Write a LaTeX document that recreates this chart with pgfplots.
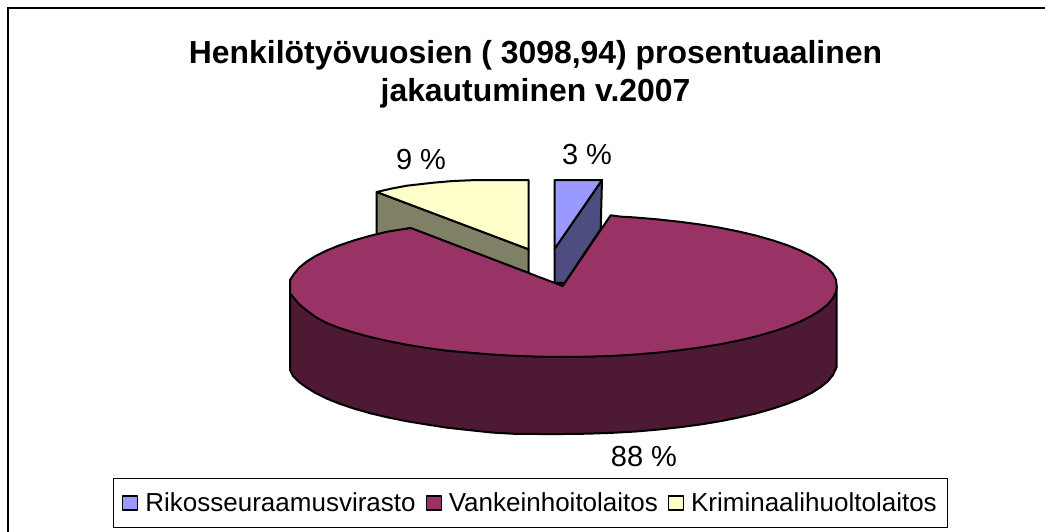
\documentclass[border=0pt]{standalone}
\usepackage{pgfplots}
\pgfplotsset{compat=1.18}
\usepackage{fontspec}
\setmainfont{Liberation Sans}
\definecolor{cblue}{HTML}{9999FF}
\definecolor{cblueS}{HTML}{4D4D80}
\definecolor{cmain}{HTML}{993366}
\definecolor{cmainS}{HTML}{4D1933}
\definecolor{cyel}{HTML}{FFFFCC}
\definecolor{cyelS}{HTML}{808066}
\begin{document}
\begin{tikzpicture}[x=1pt,y=1pt]
\useasboundingbox (0,0) rectangle (1045pt,531pt);
\begin{axis}[
  at={(0,0)},anchor=south west,
  scale only axis,width=1045pt,height=531pt,
  xmin=0,xmax=1045,ymin=0,ymax=531,y dir=reverse,
  hide axis,clip=false,
  legend columns=3,
  legend cell align=left,
  legend style={at={(axis cs:530.5,503)},anchor=center,draw=black,line width=1pt,
    font=\fontsize{26}{28}\selectfont,
    inner xsep=9pt,inner ysep=12.5pt,row sep=0pt,
    /tikz/every even column/.style={column sep=8pt},
    /tikz/every odd column/.style={column sep=5pt}},
  legend image code/.code={\draw[#1,line width=1.2pt] (0pt,-7pt) rectangle (15pt,7pt);},
  every axis plot/.append style={draw=black,line width=2pt,line join=round},
]
% Rikosseuraamusvirasto side
\addplot[fill=cblueS,forget plot] coordinates {(602,180)(600.7,229)(562.7,286)(554.7,284)(554.7,248.7)} -- cycle;
% Rikosseuraamusvirasto top
\addplot[fill=cblue] coordinates {(554.7,180)(602,180)(554.7,248.7)} -- cycle;
\addlegendentry{Rikosseuraamusvirasto}
% Kriminaalihuoltolaitos side
\addplot[fill=cyelS,forget plot] coordinates {(376.7,192)(528.7,249.3)(528.7,273)(410,228)(376.7,236)} -- cycle;
% Vankeinhoitolaitos side
\addplot[fill=cmainS,forget plot] coordinates {(290,280)(290,370)(293,376)(299,382)(306.5,387.5)(315.6,393)(326.6,398.5)(339.5,403.7)(354,408.6)(370.1,413.2)(387.7,417.4)(406.6,421.2)(426.7,424.5)(447.9,427.8)(470,430.2)(492.7,432.6)(516,433.9)(539.7,434)(563.5,434)(587.3,433.7)(610.6,432.9)(634.3,431.6)(657,429.7)(679.1,427.3)(700.3,424.5)(720.4,421.2)(739.3,417.4)(756.9,413.2)(773,408.6)(787.5,403.7)(800.4,398.5)(811.4,393)(820.5,387.3)(827.7,381.4)(832.8,375.3)(836.7,367)(836.7,286)} -- cycle;
% Vankeinhoitolaitos top
\addplot[fill=cmain] coordinates {(562.7,286)(610.7,215.3)(620.4,216.6)(634.3,217.4)(657,219.3)(679.1,221.7)(700.3,224.5)(720.4,227.8)(739.3,231.6)(756.9,235.8)(773,240.4)(787.5,245.3)(800.4,250.5)(811.4,256)(820.5,261.7)(827.7,267.6)(832.8,273.7)(836,279.8)(836.7,286)(836,292.2)(832.8,298.3)(827.7,304.4)(820.5,310.3)(811.4,316)(800.4,321.5)(787.5,326.7)(773,331.6)(756.9,336.2)(739.3,340.4)(720.4,344.2)(700.3,347.5)(679.1,350.3)(657,352.7)(634.3,354.6)(610.6,356)(587.3,356.7)(563.5,357)(539.7,356.7)(516,355.9)(492.7,354.6)(470,352.7)(447.9,350.8)(426.7,348)(406.6,344.7)(387.7,341)(370.1,337)(354,332.6)(339.5,328)(326.6,323)(315.6,317)(306.5,310.3)(299.3,304.4)(294.2,298.3)(290,293.3)(290,280)(294.2,273.7)(299.3,267.6)(306.5,261.7)(315.6,256)(326.6,250.5)(339.5,245.3)(354,240.4)(370.1,235.8)(387.7,231.6)(410.7,228)} -- cycle;
\addlegendentry{Vankeinhoitolaitos}
% Kriminaalihuoltolaitos top
\addplot[fill=cyel] coordinates {(376.7,192)(391,188.7)(406.7,185.7)(433.3,182.7)(453,181)(476.7,180)(528.7,180)(528.7,249.3)} -- cycle;
\addlegendentry{Kriminaalihuoltolaitos}
\draw[black,line width=2pt] (axis cs:8,535) -- (axis cs:8,7.5) -- (axis cs:1050,7.5);
\node[font=\bfseries\fontsize{31.9}{38}\selectfont,align=center,anchor=center] at (axis cs:535.5,74.5) {Henkilötyövuosien ( 3098,94) prosentuaalinen\\jakautuminen v.2007};
\node[font=\fontsize{29}{34}\selectfont] at (axis cs:421,160) {9 \%};
\node[font=\fontsize{29}{34}\selectfont] at (axis cs:587,155) {3 \%};
\node[font=\fontsize{29}{34}\selectfont] at (axis cs:644,457) {88 \%};
\end{axis}
\end{tikzpicture}
\end{document}
